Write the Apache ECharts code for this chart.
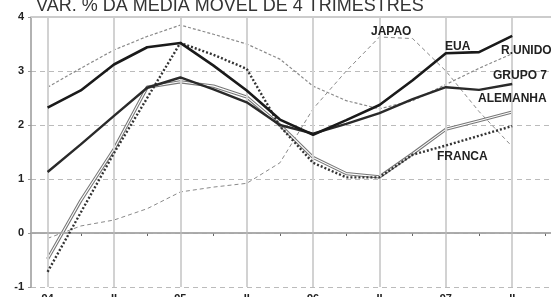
<!DOCTYPE html>
<html>
<head>
<meta charset="utf-8">
<script src="https://cdn.jsdelivr.net/npm/echarts@6/dist/echarts.min.js"></script>
<style>
  html, body { margin: 0; padding: 0; background: #fff; }
  #chart { width: 551px; height: 297px; }
</style>
</head>
<body>
<div id="chart"></div>
<script>
// trimestres: 94 ... 97 II (um ponto por trimestre)
const trimestres = ['94', '', 'II', '', '95', '', 'II', '', '96', '', 'II', '', '97', '', 'II', ''];
const yTicks = [-1, 0, 1, 2, 3, 4];

// var. % da media movel de 4 trimestres
const eua      = [2.32, 2.64, 3.12, 3.44, 3.52, 3.10, 2.64, 2.10, 1.82, 2.09, 2.37, 2.83, 3.33, 3.35, 3.65];
const grupo7   = [1.13, 1.64, 2.17, 2.69, 2.88, 2.66, 2.42, 2.00, 1.84, 2.02, 2.22, 2.48, 2.70, 2.65, 2.76];
const rUnido   = [2.70, 3.05, 3.39, 3.64, 3.85, 3.68, 3.50, 3.22, 2.72, 2.45, 2.30, 2.45, 2.75, 3.05, 3.32];
const japao    = [-0.10, 0.13, 0.24, 0.45, 0.76, 0.85, 0.92, 1.30, 2.30, 3.00, 3.63, 3.60, 3.00, 2.25, 1.60];
const alemanha = [-0.48, 0.60, 1.55, 2.70, 2.80, 2.72, 2.52, 2.00, 1.40, 1.10, 1.04, 1.47, 1.92, 2.08, 2.24];
const franca   = [-0.72, 0.38, 1.48, 2.50, 3.52, 3.30, 3.04, 1.98, 1.30, 1.03, 1.03, 1.45, 1.62, 1.80, 1.98];

// grade vertical nos rotulos (indices pares)
const gradeX = [0, 2, 4, 6, 8, 10, 12, 14];

const FONT = '"Liberation Sans", Arial, sans-serif';

var chartDom = document.getElementById('chart');
var myChart = echarts.init(chartDom, null, { renderer: 'canvas' });

function serie(nome, dados, cor, largura, tipo, z) {
  return {
    name: nome,
    type: 'line',
    data: dados,
    symbol: 'none',
    smooth: false,
    z: z || 3,
    lineStyle: { color: cor, width: largura, type: tipo || 'solid' },
    emphasis: { disabled: true },
    silent: true
  };
}

function rotulo(texto, x, y) {
  return {
    type: 'text',
    left: x,
    top: y,
    z: 10,
    style: { text: texto, font: 'bold 12px ' + FONT, fill: '#222' }
  };
}

var option = {
  animation: false,
  backgroundColor: '#fff',
  title: {
    text: 'VAR. % DA MEDIA MOVEL DE 4 TRIMESTRES',
    left: 36,
    top: -3,
    padding: 0,
    textStyle: { fontFamily: FONT, fontSize: 18, fontWeight: 'normal', color: '#333' }
  },
  grid: { left: 31, top: 17, width: 531, height: 270, outerBoundsMode: 'none', containLabel: false },
  xAxis: {
    type: 'category',
    data: trimestres,
    boundaryGap: true,
    axisLine: { lineStyle: { color: '#999', width: 1.5 } },
    axisTick: {
      show: true,
      alignWithLabel: true,
      length: 3,
      interval: function (i) { return i % 2 === 1; },
      lineStyle: { color: '#666' }
    },
    axisLabel: {
      interval: 0,
      margin: 6,
      fontFamily: FONT,
      fontSize: 11,
      fontWeight: 'bold',
      color: '#222'
    },
    splitLine: { show: false }
  },
  yAxis: {
    type: 'value',
    min: yTicks[0],
    max: yTicks[yTicks.length - 1],
    interval: 1,
    axisLine: { show: true, lineStyle: { color: '#999', width: 1.5 } },
    axisTick: { show: true, length: 3, lineStyle: { color: '#999' } },
    axisLabel: {
      margin: 7,
      fontFamily: FONT,
      fontSize: 11,
      fontWeight: 'bold',
      color: '#222'
    },
    splitLine: { show: true, lineStyle: { color: '#bbb', width: 1, type: [5, 4] } }
  },
  graphic: [
    rotulo('JAPAO', 371, 26),
    rotulo('EUA', 445, 41),
    rotulo('R.UNIDO', 501, 45),
    rotulo('GRUPO 7', 493, 70),
    rotulo('ALEMANHA', 478, 93),
    rotulo('FRANCA', 437, 151)
  ],
  series: [
    {
      name: 'grade',
      type: 'line',
      data: trimestres.map(function () { return null; }),
      symbol: 'none',
      z: 1,
      silent: true,
      markLine: {
        silent: true,
        symbol: 'none',
        label: { show: false },
        animation: false,
        data: gradeX.map(function (i) {
          return [
            { coord: [i, yTicks[0]], lineStyle: { color: '#d2d2d2', width: 2, type: 'solid' } },
            { coord: [i, yTicks[yTicks.length - 1]] }
          ];
        }).concat([
          [{ coord: [0, 0], x: 31, lineStyle: { color: '#aaa', width: 1.5, type: 'solid' } }, { coord: [15, 0], x: 551 }],
          [{ coord: [0, 4], x: 31, lineStyle: { color: '#ccc', width: 2, type: 'solid' } }, { coord: [15, 4], x: 551 }]
        ])
      }
    },
    serie('JAPAO', japao, '#8a8a8a', 1, [4, 3]),
    serie('R.UNIDO', rUnido, '#8a8a8a', 1.2, [3, 2]),
    serie('ALEMANHA', alemanha, '#777', 3.2, 'solid'),
    serie('ALEMANHA_int', alemanha, '#fff', 1.1, 'solid', 4),
    serie('FRANCA', franca, '#333', 2.4, [2, 2], 5),
    serie('GRUPO 7', grupo7, '#2a2a2a', 2.4, 'solid', 6),
    serie('EUA', eua, '#1a1a1a', 2.6, 'solid', 7)
  ]
};

option && myChart.setOption(option);
</script>
</body>
</html>
